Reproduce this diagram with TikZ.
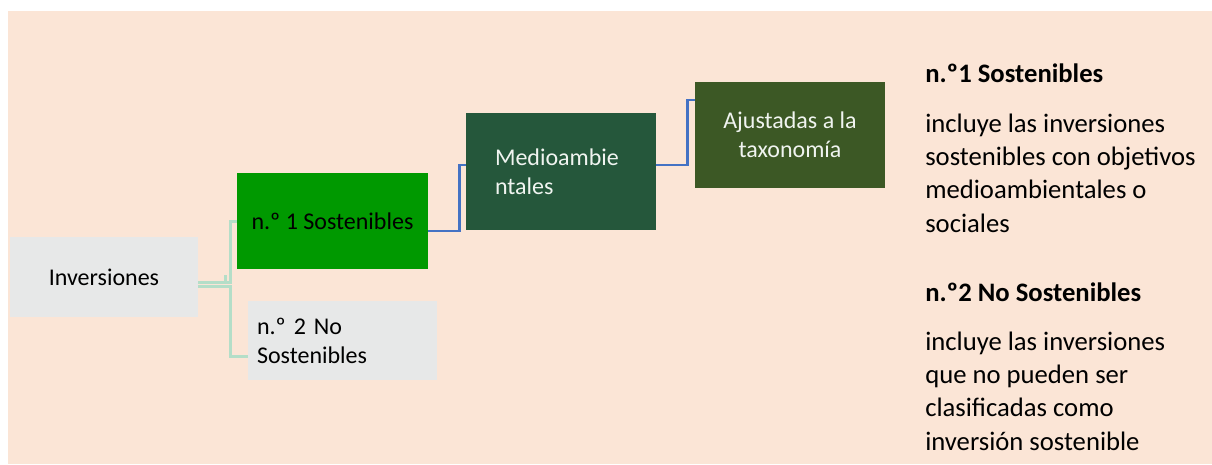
\documentclass[tikz,border=0pt]{standalone}
\usepackage{fontspec}
\setmainfont{Carlito}
\usetikzlibrary{calc}

\begin{document}
\begin{tikzpicture}[x=0.75pt,y=0.75pt,yscale=-1,xscale=1,
  box/.style={draw opacity=0, inner sep=0pt, font=\fontsize{18}{21.75}\selectfont},
  greybox/.style={box, fill={rgb, 255:red, 231; green, 232; blue, 232 }, text={rgb, 255:red, 0; green, 0; blue, 0 }},
  darkbox/.style={box, text={rgb, 255:red, 240; green, 244; blue, 240 }},
  greenline/.style={draw={rgb, 255:red, 180; green, 222; blue, 200 }, line width=2.25pt},
  blueline/.style={draw={rgb, 255:red, 68; green, 114; blue, 196 }, line width=2.1pt},
  note/.style={anchor=base west, inner sep=0pt, font=\fontsize{20}{25}\selectfont}]
\path (0,0) rectangle (1212,464); %set diagram size

%Shape: Rectangle (background)
\fill [fill={rgb, 255:red, 251; green, 229; blue, 214 }] (8,11) rectangle (1212,464) ;

%Shape: Rectangle
\node [greybox, minimum width=141pt, minimum height=60pt] (inv) at (104,277) {Inversiones};
%Shape: Rectangle
\node [box, fill={rgb, 255:red, 0; green, 153; blue, 0 }, minimum width=143.25pt, minimum height=72pt] (sost) at (332.5,221) {n.º 1 Sostenibles};
%Shape: Rectangle
\node [greybox, minimum width=141.75pt, minimum height=59.25pt, text width=128.25pt, inner xsep=6.75pt, align=left] (nosost) at (342.5,340.5) {n.º 2 No\\Sostenibles};
%Shape: Rectangle
\node [darkbox, fill={rgb, 255:red, 37; green, 87; blue, 59 }, minimum width=142.5pt, minimum height=87.75pt, text width=99pt, inner xsep=21.75pt, align=left] (medio) at (561,171.5) {Medioambie\\ntales};
%Shape: Rectangle
\node [darkbox, fill={rgb, 255:red, 60; green, 88; blue, 37 }, minimum width=142.5pt, minimum height=79.5pt, align=center] (tax) at (790,135) {Ajustadas a la\\taxonomía};

%Straight Lines
\draw [greenline] ($(inv.east)+(0,5)$) -- ++(32,0) |- (sost.west) ;
\draw [greenline] ($(inv.east)+(0,9)$) -- ++(32,0) |- ($(nosost.west)+(0,15.5)$) ;
\draw [greenline] ($(inv.east)+(27,5)$) -- ++(0,-7) ;
%Straight Lines
\draw [blueline] ($(sost.east)+(0,10)$) -- ++(31,0) |- ($(medio.west)+(0,-6.5)$) ;
\draw [blueline] ($(medio.east)+(0,-6.5)$) -- ++(31,0) |- ($(tax.west)+(0,-35)$) ;

% Text Node
\node [note] (head1) at (925,82) {\bfseries n.º1 Sostenibles};
% Text Node
\node [note] (text1) at (925,132) {\parbox[t]{210pt}{\raggedright incluye las inversiones\\sostenibles con objetivos\\medioambientales o\\sociales}};
% Text Node
\node [note] (head2) at (925,301) {\bfseries n.º2 No Sostenibles};
% Text Node
\node [note] (text2) at (925,350) {\parbox[t]{210pt}{\raggedright incluye las inversiones\\que no pueden ser\\clasificadas como\\inversión sostenible}};

\end{tikzpicture}
\end{document}
